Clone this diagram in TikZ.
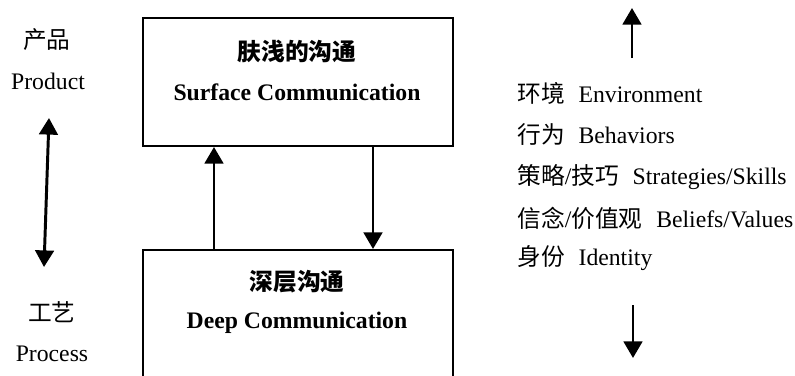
\documentclass[tikz,border=0pt]{standalone}
\usepackage{fontspec}
\setmainfont{Liberation Serif}
\newfontfamily\cjk{Noto Sans CJK SC}
\usetikzlibrary{arrows.meta}
\begin{document}
\begin{tikzpicture}[x=0.5063pt,y=-0.5063pt,
  every node/.style={font=\fontsize{12}{14}\selectfont, inner sep=0pt},
  boxstyle/.style={draw, line width=1pt, inner sep=0pt},
  arr/.style={line width=1.5pt, -{Triangle[width=9.4pt,length=8.4pt]}},
  darr/.style={line width=1.5pt, {Triangle[width=9.4pt,length=8.4pt]}-{Triangle[width=9.4pt,length=8.4pt]}},
  lbl/.style={anchor=center},
  rlbl/.style={anchor=west}]
\useasboundingbox (0,0) rectangle (795,376);
\clip (0,0) rectangle (795,376);
% boxes
\node[boxstyle, minimum width=310*0.5063pt, minimum height=128*0.5063pt] (surf) at (298,82) {};
\node[boxstyle, minimum width=310*0.5063pt, minimum height=150*0.5063pt] (deep) at (298,325) {};
% box texts
\node[lbl] (surfzh) at (297,51) {\cjk\bfseries 肤浅的沟通};
\node[lbl] (surfen) at (297,92) {\bfseries Surface Communication};
\node[lbl] (deepzh) at (297,282) {\cjk\bfseries 深层沟通};
\node[lbl] (deepen) at (297,323) {\bfseries Deep Communication};
% arrows between boxes
\draw[arr] ([xshift=-84*0.5063pt]deep.north) -- ([xshift=-84*0.5063pt]surf.south);
\draw[arr] ([xshift=75*0.5063pt]surf.south) -- ([xshift=75*0.5063pt]deep.north);
% left labels
\node[lbl] (prodzh) at (47,40) {\cjk 产品};
\node[lbl] (proden) at (48,81) {Product};
\node[lbl] (proczh) at (52,312) {\cjk 工艺};
\node[lbl] (procen) at (52,354) {Process};
\coordinate (lt) at (49,118);
\coordinate (lb) at (44,267);
\draw[darr] (lb) -- (lt);
% right column
\node[rlbl] (env) at (517,93) {{\cjk 环境}\hspace{7pt}Environment};
\node[rlbl] (beh) at (517,135) {{\cjk 行为}\hspace{7pt}Behaviors};
\node[rlbl] (str) at (517,177) {{\cjk 策略}/{\cjk 技巧}\hspace{7pt}Strategies/Skills};
\node[rlbl] (bel) at (517,218) {{\cjk 信念}/{\cjk 价值观}\hspace{7pt}Beliefs/Values};
\node[rlbl] (idn) at (517,258) {{\cjk 身份}\hspace{7pt}Identity};
\coordinate (rut) at (632,58);
\coordinate (ruh) at (632,8);
\coordinate (rdt) at (633,305);
\coordinate (rdh) at (633,358);
\draw[arr] (rut) -- (ruh);
\draw[arr] (rdt) -- (rdh);
\end{tikzpicture}
\end{document}
